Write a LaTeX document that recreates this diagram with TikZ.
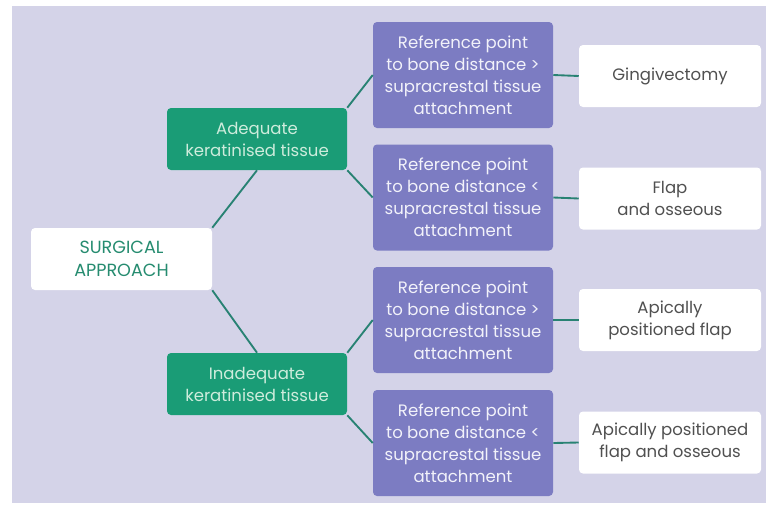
\documentclass[tikz,border=0pt]{standalone}
\usepackage{fontspec}
\setmainfont{Poppins}
\definecolor{bgcol}{RGB}{212,211,232}
\definecolor{greenbox}{RGB}{26,156,118}
\definecolor{purplebox}{RGB}{124,124,194}
\definecolor{linecol}{RGB}{40,130,115}
\definecolor{greentext}{RGB}{206,236,220}
\definecolor{purpletext}{RGB}{242,242,250}
\definecolor{graytext}{RGB}{80,80,80}
\definecolor{surgtext}{RGB}{38,140,112}
\begin{document}
\begin{tikzpicture}[x=0.75pt,y=-0.75pt,
  base/.style={rounded corners=3pt, inner sep=0pt, align=center, font=\fontsize{12.4}{16.5}\selectfont},
  greennode/.style={base, fill=greenbox, text=greentext, minimum width=135pt, minimum height=46.5pt},
  purplenode/.style={base, fill=purplebox, text=purpletext, minimum width=135pt, minimum height=79.5pt},
  whitenode/.style={base, fill=white, text=graytext, minimum width=136.5pt, minimum height=46.5pt},
  rootnode/.style={base, fill=white, text=surgtext, minimum width=135.75pt, minimum height=46.5pt, font=\fontsize{13.2}{17}\selectfont},
  conn/.style={draw=linecol, line width=1.4pt}]
\useasboundingbox (0,0) rectangle (766,507);
\fill[white] (0,0) rectangle (766,507);
\fill[bgcol] (12,6) rectangle (766,503);
\node[rootnode] (root) at (121.5,259) {SURGICAL\\APPROACH};
\node[greennode] (adeq) at (257,139) {Adequate\\keratinised tissue};
\node[greennode] (inad) at (257,384) {Inadequate\\keratinised tissue};
\node[purplenode] (p1) at (463,75) {Reference point\\to bone distance >\\supracrestal tissue\\attachment};
\node[purplenode] (p2) at (463,197.5) {Reference point\\to bone distance <\\supracrestal tissue\\attachment};
\node[purplenode] (p3) at (463,320) {Reference point\\to bone distance >\\supracrestal tissue\\attachment};
\node[purplenode] (p4) at (463,443) {Reference point\\to bone distance <\\supracrestal tissue\\attachment};
\node[whitenode] (w1) at (670,76) {Gingivectomy};
\node[whitenode] (w2) at (670,198.5) {Flap\\and osseous};
\node[whitenode] (w3) at (670,320) {Apically\\positioned flap};
\node[whitenode] (w4) at (670,442.5) {Apically positioned\\flap and osseous};
\draw[conn] (root.north east) -- (adeq.south);
\draw[conn] (root.south east) -- (inad.north);
\draw[conn] (adeq.north east) -- (p1.west);
\draw[conn] (adeq.south east) -- (p2.west);
\draw[conn] (inad.north east) -- (p3.west);
\draw[conn] (inad.south east) -- (p4.west);
\draw[conn] (p1.east) -- (w1.west);
\draw[conn] (p2.east) -- (w2.west);
\draw[conn] (p3.east) -- (w3.west);
\draw[conn] (p4.east) -- (w4.west);
\end{tikzpicture}
\end{document}
